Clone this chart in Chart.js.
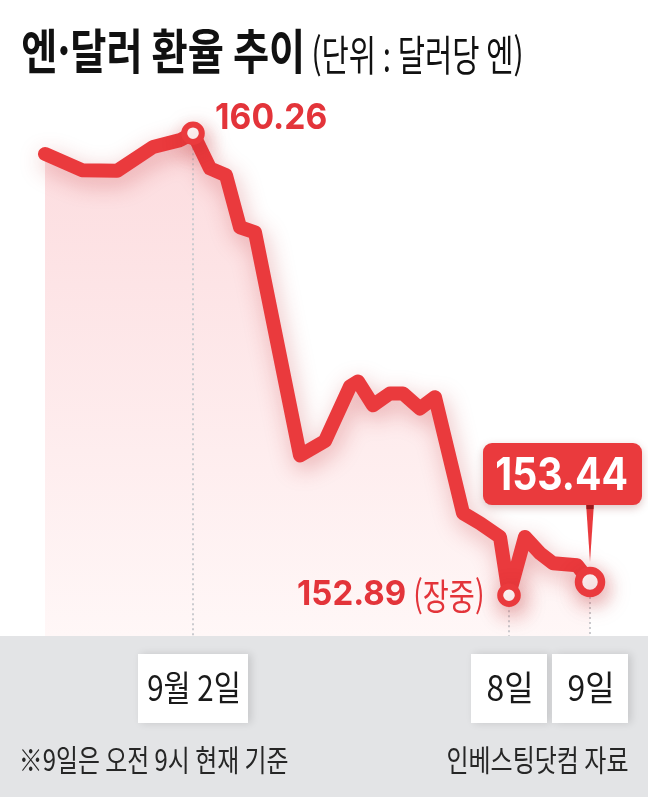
<!DOCTYPE html>
<html lang="ko">
<head>
<meta charset="utf-8">
<title>엔·달러 환율 추이</title>
<script src="https://cdn.jsdelivr.net/npm/chart.js@4/dist/chart.umd.min.js"></script>
<style>
  html, body { margin: 0; padding: 0; background: #fff; }
  canvas { display: block; }
</style>
</head>
<body>
<canvas id="chart" width="648" height="797"></canvas>
<script>
// time index and yen per dollar
const steps = [0, 7.4, 14.4, 21.6, 27, 29.6, 33, 36.2, 39, 42, 51, 56, 61, 62.6, 65.6, 69, 71.6, 75, 78, 83.6, 87, 91, 92.8, 96, 99, 101.6, 106.4, 109];
const rates = [159.93, 159.67, 159.66, 160.04, 160.15, 160.26, 159.70, 159.59, 158.76, 158.68, 155.12, 155.35, 156.22, 156.30, 155.92, 156.11, 156.11, 155.87, 156.05, 154.20, 154.04, 153.82, 152.89, 153.82, 153.56, 153.40, 153.37, 153.10];

// tick labels on the date boxes
const dayLabels = ['9월 2일', '8일', '9일'];
const dayAt = [29.6, 92.8, 109];

// highlighted points: high, intraday low, latest
const markIdx = [5, 22, 27];
const peakText = '160.26';
const lowText = '152.89';
const lastText = '153.44';

const RED = '#ea3a3d';
const TEXT_RED = '#e3343a';

// draw text so its ink box fills the given rectangle
function fitText(ctx, text, font, color, x0, y0, x1, y1) {
    ctx.save();
    ctx.font = font;
    ctx.textAlign = 'left';
    ctx.textBaseline = 'alphabetic';
    const m = ctx.measureText(text);
    const w = m.actualBoundingBoxLeft + m.actualBoundingBoxRight;
    const h = m.actualBoundingBoxAscent + m.actualBoundingBoxDescent;
    ctx.translate(x0, y0);
    ctx.scale((x1 - x0) / w, (y1 - y0) / h);
    ctx.fillStyle = color;
    ctx.fillText(text, m.actualBoundingBoxLeft, m.actualBoundingBoxAscent);
    ctx.restore();
}

function centerText(ctx, text, font, color, cx, cy, w, h) {
    fitText(ctx, text, font, color, cx - w / 2, cy - h / 2, cx + w / 2, cy + h / 2);
}

const decor = {
    id: 'decor',
    beforeDatasetsDraw(chart) {
        const { ctx, chartArea, scales } = chart;
        // dotted guides from the marked points down to the date boxes
        ctx.save();
        ctx.strokeStyle = '#cbcbcf';
        ctx.lineWidth = 2;
        ctx.setLineDash([2, 3]);
        dayAt.forEach((d) => {
            const i = steps.indexOf(d);
            const x = scales.x.getPixelForValue(d);
            const y = scales.y.getPixelForValue(rates[i]);
            ctx.beginPath();
            ctx.moveTo(x, y);
            ctx.lineTo(x, chartArea.bottom);
            ctx.stroke();
        });
        ctx.restore();
    },
    beforeDatasetDraw(chart) {
        const ctx = chart.ctx;
        ctx.save();
        ctx.shadowColor = 'rgba(190, 40, 45, 0.34)';
        ctx.shadowBlur = 22;
        ctx.shadowOffsetX = 3;
        ctx.shadowOffsetY = 7;
    },
    afterDatasetDraw(chart) {
        chart.ctx.restore();
    },
    afterDraw(chart) {
        const { ctx, chartArea, scales, width, height } = chart;

        // grey footer band
        ctx.fillStyle = '#e3e4e6';
        ctx.fillRect(0, chartArea.bottom, width, height - chartArea.bottom);

        // date boxes
        const boxW = [110, 76, 76];
        dayLabels.forEach((lab, k) => {
            const cx = scales.x.getPixelForValue(dayAt[k]);
            ctx.save();
            ctx.shadowColor = 'rgba(0, 0, 0, 0.13)';
            ctx.shadowBlur = 8;
            ctx.shadowOffsetX = 3;
            ctx.fillStyle = '#fff';
            ctx.fillRect(cx - boxW[k] / 2, chartArea.bottom + 18, boxW[k], 69);
            ctx.restore();
            const tw = k === 0 ? 90 : 43;
            centerText(ctx, lab, '400 34px "Noto Sans CJK KR"', '#1a1a1a', cx, chartArea.bottom + 52, tw, 33);
        });

        // footnotes
        fitText(ctx, '※9일은 오전 9시 현재 기준', '400 30px "Noto Sans CJK KR"', '#262626', 22, 746, 288, 775);
        fitText(ctx, '인베스팅닷컴 자료', '400 30px "Noto Sans CJK KR"', '#262626', 448, 746, 628, 775);

        // title
        fitText(ctx, '엔·달러 환율 추이', '700 48px "Noto Sans CJK KR"', '#111', 23, 28, 301, 75);
        fitText(ctx, '(단위 : 달러당 엔)', '400 36px "Noto Sans CJK KR"', '#111', 314, 34, 521, 77);

        // high label
        const px = scales.x.getPixelForValue(steps[markIdx[0]]);
        const py = scales.y.getPixelForValue(rates[markIdx[0]]);
        fitText(ctx, peakText, '700 36px Inter', TEXT_RED, px + 23, py - 30, px + 133, py - 4);

        // intraday low label
        const lx = scales.x.getPixelForValue(steps[markIdx[1]]);
        const ly = scales.y.getPixelForValue(rates[markIdx[1]]);
        fitText(ctx, lowText, '700 36px Inter', TEXT_RED, lx - 211, ly - 16, lx - 104, ly + 10);
        fitText(ctx, '(장중)', '400 32px "Noto Sans CJK KR"', TEXT_RED, lx - 94, ly - 19, lx - 27, ly + 19);

        // latest value callout
        const ex = scales.x.getPixelForValue(steps[markIdx[2]]);
        const ey = scales.y.getPixelForValue(rates[markIdx[2]]);
        const bx0 = ex - 107, bx1 = ex + 52, by0 = ey - 139, by1 = ey - 77;
        ctx.save();
        ctx.fillStyle = RED;
        ctx.beginPath();
        ctx.moveTo(ex - 4, by1 - 2);
        ctx.lineTo(ex + 4, by1 - 2);
        ctx.lineTo(ex, ey - 20);
        ctx.closePath();
        ctx.fill();
        ctx.fillStyle = '#9c1c20';
        ctx.fillRect(ex - 3.5, by1, 7, 4);
        ctx.shadowColor = 'rgba(120, 20, 20, 0.25)';
        ctx.shadowBlur = 8;
        ctx.shadowOffsetY = 3;
        ctx.fillStyle = RED;
        ctx.beginPath();
        ctx.roundRect(bx0, by0, bx1 - bx0, by1 - by0, 9);
        ctx.fill();
        ctx.restore();
        fitText(ctx, lastText, '700 46px Inter', '#fff', ex - 93, ey - 125, ex + 37, ey - 92);
    }
};

new Chart(document.querySelector('#chart'), {
    type: 'line',
    data: {
        datasets: [
            {
                data: steps.map((x, i) => ({ x: x, y: rates[i] })),
                borderColor: RED,
                borderWidth: 14,
                borderJoinStyle: 'round',
                borderCapStyle: 'round',
                tension: 0,
                clip: false,
                fill: 'start',
                backgroundColor: (context) => {
                    const { ctx, chartArea } = context.chart;
                    if (!chartArea) return 'rgba(252, 220, 222, 0.6)';
                    const g = ctx.createLinearGradient(0, chartArea.top, 0, chartArea.bottom);
                    g.addColorStop(0, '#fcdadd');
                    g.addColorStop(1, '#fff7f7');
                    return g;
                },
                pointRadius: (c) => c.dataIndex === markIdx[2] ? 11.5 : (markIdx.includes(c.dataIndex) ? 8.8 : 0),
                pointBorderWidth: (c) => c.dataIndex === markIdx[2] ? 7.5 : 6,
                pointBackgroundColor: '#fff',
                pointBorderColor: RED,
                pointHoverRadius: 0
            }
        ]
    },
    options: {
        responsive: false,
        devicePixelRatio: 1,
        animation: false,
        events: [],
        layout: {
            padding: { top: 100, bottom: 161, left: 45, right: 58 }
        },
        scales: {
            x: { type: 'linear', display: false, min: 0, max: 109 },
            y: { display: false, min: 152.24, max: 160.79 }
        },
        plugins: {
            legend: { display: false },
            tooltip: { enabled: false },
            filler: { drawTime: 'beforeDatasetsDraw' }
        }
    },
    plugins: [decor]
});
</script>
</body>
</html>
